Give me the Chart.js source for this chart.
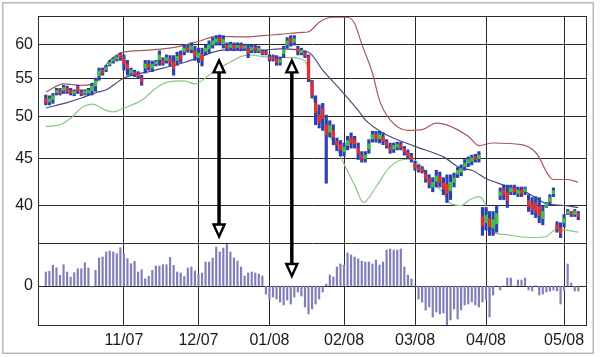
<!DOCTYPE html>
<html>
<head>
<meta charset="utf-8">
<script src="https://cdn.jsdelivr.net/npm/chart.js@4.4.1/dist/chart.umd.min.js"></script>
<style>
html,body{margin:0;padding:0;background:#ffffff;}
#wrap{width:600px;height:357px;position:relative;}
</style>
</head>
<body>
<div id="wrap"><canvas id="c" width="600" height="357"></canvas></div>
<script>
// ---- axis labels ----
const monthTickDays = [23, 44, 64, 85, 105, 125, 147];
const monthLabels = ["11/07", "12/07", "01/08", "02/08", "03/08", "04/08", "05/08"];
const priceTicks = [40, 45, 50, 55, 60];
const oscTicks = [0];
const firstDay = 1; // trading-day index of first bar

// ---- daily price bars ----
const high = [52.8,52.7,53.0,53.7,53.7,54.1,54.0,53.7,53.5,54.1,53.5,53.5,53.7,54.4,55.1,56.5,56.5,56.9,57.6,58.0,58.3,58.7,
58.4,57.6,56.5,56.2,56.0,55.5,57.6,57.6,57.5,57.6,59.0,58.0,58.4,58.3,58.3,58.8,59.0,59.85,59.85,60.2,59.7,
59.4,59.4,59.85,60.5,61.0,61.3,61.4,61.3,60.2,60.3,60.2,60.2,60.2,60.0,59.85,59.85,59.85,59.7,59.1,59.1,
58.4,58.4,58.3,58.1,59.7,61.0,61.3,61.3,59.7,59.4,59.0,58.4,54.8,52.7,51.5,51.7,50.2,49.5,49.0,47.4,47.1,
46.8,47.6,48.0,47.6,46.8,45.8,45.8,47.2,48.2,48.2,48.2,48.0,47.2,46.8,46.8,46.9,46.9,46.4,46.0,45.6,
44.7,44.3,44.1,43.7,43.2,42.9,43.7,43.5,42.9,43.2,43.2,43.4,44.0,44.3,44.9,45.2,45.4,45.5,45.8,39.8,
39.8,39.4,39.4,40.0,41.8,42.1,42.1,42.1,42.1,41.9,41.9,41.9,41.1,40.8,40.9,40.8,40.0,40.3,41.1,41.8,38.4,38.3,
39.1,39.6,39.4,39.6,39.4];
const low = [51.5,51.5,51.7,52.8,52.8,53.0,53.0,52.8,52.7,53.0,52.7,52.8,52.8,52.8,53.3,54.8,55.5,56.0,56.8,57.2,57.5,57.6,
56.2,55.5,55.5,55.3,55.1,54.1,55.8,56.2,56.0,56.8,56.9,56.9,57.2,56.8,55.5,56.9,57.3,58.4,58.8,58.7,57.6,
57.3,56.8,58.4,58.7,59.4,59.85,59.85,59.4,59.0,59.1,59.0,59.1,59.0,59.1,58.0,58.7,58.7,58.7,58.4,58.4,
57.5,57.5,56.9,56.9,58.0,59.4,59.7,59.85,58.4,58.4,58.0,54.6,52.4,49.0,48.6,48.3,42.3,47.5,46.6,45.9,45.3,
45.3,46.0,46.2,46.2,44.9,44.6,44.6,45.6,46.9,46.9,46.8,46.6,46.2,45.6,45.7,46.0,46.0,45.4,45.0,44.6,
43.7,43.5,43.4,42.4,41.8,41.4,41.9,41.9,41.1,40.3,40.6,41.9,42.9,43.1,43.7,44.1,44.3,44.6,44.6,37.1,
37.6,37.1,37.1,37.4,40.6,40.6,39.8,41.1,41.1,40.9,40.9,41.1,39.4,39.1,38.8,38.3,38.1,39.8,40.0,40.9,37.4,36.9,
37.9,39.1,38.9,38.9,38.6];
const open = [52.3,51.9,52.2,53.1,53.4,53.4,53.7,53.4,53.0,53.8,53.2,53.0,53.1,53.4,54.0,55.4,56.2,56.3,57.0,57.5,57.8,58.4,
57.9,57.1,55.8,55.9,55.7,55.1,56.5,57.1,56.5,57.1,57.7,57.6,57.6,57.8,57.4,57.6,58.4,58.9,59.5,59.2,59.0,
58.0,58.5,58.9,59.3,59.9,60.3,60.9,60.0,59.8,59.5,59.8,59.5,59.8,59.4,59.2,59.1,59.5,59.0,58.9,58.9,
58.1,58.1,57.8,57.3,58.6,59.9,60.8,60.3,59.3,58.7,58.7,58.1,54.6,51.8,50.2,51.0,49.0,48.1,48.3,47.0,46.6,
45.8,46.5,47.4,47.2,46.2,45.4,45.0,46.1,47.3,47.8,47.3,47.5,46.9,46.4,46.1,46.3,46.6,46.1,45.7,45.3,
44.4,44.0,43.9,43.3,42.8,41.9,42.5,43.0,42.3,42.2,41.5,42.4,43.3,43.5,44.1,44.5,44.7,45.2,45.0,38.9,
38.3,38.7,37.8,38.2,41.0,41.6,41.3,41.4,41.8,41.2,41.6,41.4,40.5,40.2,40.2,39.9,38.7,39.9,40.4,41.2,38.1,37.8,
38.3,39.2,39.3,39.1,39.2];
const close = [51.8,52.3,52.7,53.4,53.1,53.8,53.3,53.1,53.3,53.4,52.9,53.3,53.4,54.0,54.7,56.1,55.8,56.6,57.3,57.8,58.1,58.0,
57.1,56.4,56.2,55.6,55.4,54.6,57.1,56.6,57.0,57.4,58.4,57.2,58.0,57.3,56.4,58.2,57.8,59.4,59.1,59.7,58.3,
58.7,57.6,59.4,59.9,60.5,60.8,60.4,60.7,59.4,59.9,59.4,59.8,59.4,59.7,58.6,59.5,59.1,59.4,58.6,58.6,
57.8,57.8,57.3,57.7,59.2,60.5,60.3,60.8,58.9,59.1,58.3,55.0,52.8,50.5,49.3,49.8,47.8,48.9,47.5,46.5,46.0,
46.3,47.1,46.8,46.7,45.6,45.0,45.4,46.7,47.8,47.3,47.8,47.0,46.5,46.0,46.5,46.6,46.3,45.7,45.3,44.9,
44.0,43.7,43.6,42.8,42.3,42.4,43.1,42.4,41.7,41.2,42.4,42.9,43.7,43.9,44.5,44.9,45.1,44.9,45.4,38.0,
39.0,37.9,38.6,39.2,41.4,41.1,40.5,41.8,41.4,41.6,41.2,41.7,39.9,39.6,39.4,39.0,39.4,40.2,40.8,41.5,37.7,37.3,
38.7,39.4,39.1,39.4,38.9];

// ---- lower-panel oscillator (one value per day) ----
const oscillator = [14,14.7,20.7,18.3,10.7,21.3,14,9,13.3,17.3,17.3,23.3,18,-1,15.7,28,29,34,35,34,32.3,38.3,
32.3,27.3,22.3,24.7,14,16.3,7.3,9.7,15.7,20,20,21.3,21.3,28.7,20.7,14,13,9.5,18,19,15,
12,13,24,24,28,39,34,38,42,34,28,25,19,10,13,14,13,12,10,-8,
-13,-11,-13,-16,-19,-14,-18,-11,-6,-10,-21,-28,-23,-18,-13,-6,2,11,9,19,22,
21,33,31,29,27,25,24,24,22,26,21,24,36,37,36,36,37,19,11,7,
0,-13,-16,-24,-21,-31,-26,-28,-27,-39,-34,-23,-33,-24,-19,-18,-16,-19,-21,-16,
-13,-31,-9,0,-4,0,8,8,0,6,6,8,-4,-5,0,-9,-8,-6,-5,-4,-5,-18,
-5,22,3,-5,-5];

// ---- bands (trading-day index, price) ----
const upperIdx = [1,6,11,15,17,19,21,23,30,38,44,49,58,62,67,73,75,78,80,82,86,88,90,93,95,98,103,107,111,115,120,123,127,135,139,144,148,151];
const upperBand = [53.2,54.3,54.1,54.4,56.2,57.6,58.4,58.8,59.1,59.6,60.4,61.2,61.1,61.3,61.5,61.8,61.9,63.4,64.0,64.2,64.2,63.2,60.0,55.8,52.1,49.6,48.3,48.4,49.2,48.8,47.6,46.5,46.8,46.6,45.7,42.7,42.7,42.4];
const midIdx = [1,7,11,15,18,23,31,40,44,51,62,67,75,79,84,89,91,96,105,113,118,121,125,130,136,142,147,151];
const midBand = [51.1,51.8,52.4,53.1,53.5,55.1,56.1,57.3,58.0,59.1,59.1,59.3,58.8,56.2,53.5,50.8,49.6,48.0,46.4,45.2,43.9,43.7,42.8,42.1,41.4,40.2,40.0,39.8];
const lowerIdx = [1,5,8,11,14,18,20,23,28,32,35,40,43,48,52,58,63,70,73,75,76,78,80,82.5,85,88,90.5,92,94,98,102,104,107,110,113,115,118,120.5,123,125,127,130,134,138,142,144.5,147,151];
const lowerBand = [48.8,49.0,49.8,51.1,51.6,50.8,50.6,51.1,52.1,53.7,54.5,54.7,54.3,55.9,57.1,58.4,58.1,58.0,57.8,56.3,53.0,50.0,48.3,46.6,44.4,42.1,40.3,40.8,41.9,44.1,44.9,44.9,44.1,42.3,41.3,40.2,40.0,40.6,40.9,40.0,37.4,37.2,37.0,36.9,37.0,37.6,37.6,37.4];

// ---- annotation arrows (day index, value on an axis) ----
const arrows = [
  {day: 49.8, top: 57.6, topAxis: 'yP', bottom: 37.0, bottomAxis: 'yP'},
  {day: 70.3, top: 57.6, topAxis: 'yP', bottom: 10, bottomAxis: 'yH'}
];

// ---- build datasets ----
const days = high.map((_, k) => firstDay + k);
const rangeData = days.map((d, k) => ({x: d, y: [low[k], high[k]]}));
const bodyData = days.map((d, k) => ({x: d, y: [open[k], close[k]]}));
const bodyColors = days.map((d, k) => close[k] >= open[k] ? '#3cc43c' : '#e6302a');
const oscData = days.map((d, k) => ({x: d, y: oscillator[k]}));
const pts = (idx, vals) => idx.map((x, k) => ({x: x, y: vals[k]}));

const FONT = {family: "'Liberation Sans', Arial, Helvetica, sans-serif", size: 16};
const TXT = '#1a1a1a';
const GRID = '#2a2a2a';

const framePlugin = {
  id: 'frame',
  beforeDraw(chart) {
    const c = chart.ctx;
    c.save();
    c.fillStyle = '#ffffff';
    c.fillRect(0, 0, chart.width, chart.height);
    c.strokeStyle = '#b8b8b8';
    c.lineWidth = 1.5;
    c.strokeRect(2.75, 2.75, 590.5, 350.5);
    c.restore();
  },
  afterDatasetsDraw(chart) {
    const c = chart.ctx, a = chart.chartArea;
    c.save();
    c.strokeStyle = GRID;
    c.lineWidth = 1;
    c.strokeRect(Math.round(a.left) + 0.5, Math.round(a.top) + 0.5, Math.round(a.right - a.left) - 1, Math.round(a.bottom - a.top) - 1);
    const yb = Math.round(chart.scales.yP.bottom) + 0.5;
    c.beginPath(); c.moveTo(a.left, yb); c.lineTo(a.right, yb); c.stroke();
    // arrows
    arrows.forEach(ar => {
      const x = chart.scales.x.getPixelForValue(ar.day);
      const yt = chart.scales[ar.topAxis].getPixelForValue(ar.top);
      const yb2 = chart.scales[ar.bottomAxis].getPixelForValue(ar.bottom);
      const hl = 12, hw = 5.5;
      c.strokeStyle = '#000';
      c.lineWidth = 3.5;
      c.beginPath(); c.moveTo(x, yt + hl); c.lineTo(x, yb2 - hl); c.stroke();
      c.lineWidth = 2.4;
      c.lineJoin = 'miter';
      c.fillStyle = '#fff';
      c.beginPath(); c.moveTo(x, yt); c.lineTo(x - hw, yt + hl); c.lineTo(x + hw, yt + hl); c.closePath(); c.fill(); c.stroke();
      c.beginPath(); c.moveTo(x, yb2); c.lineTo(x - hw, yb2 - hl); c.lineTo(x + hw, yb2 - hl); c.closePath(); c.fill(); c.stroke();
    });
    c.restore();
  }
};

new Chart(document.getElementById('c').getContext('2d'), {
  type: 'bar',
  data: {
    datasets: [
      {type: 'line', data: pts(upperIdx, upperBand), borderColor: '#a65a5a', borderWidth: 1.2, pointRadius: 0, cubicInterpolationMode: 'monotone', yAxisID: 'yP', order: 6},
      {type: 'line', data: pts(midIdx, midBand), borderColor: '#4a4a7c', borderWidth: 1.2, pointRadius: 0, cubicInterpolationMode: 'monotone', yAxisID: 'yP', order: 6},
      {type: 'line', data: pts(lowerIdx, lowerBand), borderColor: '#86c886', borderWidth: 1.2, pointRadius: 0, cubicInterpolationMode: 'monotone', yAxisID: 'yP', order: 6},
      {data: rangeData, backgroundColor: '#2e3fae', barThickness: 2.5, grouped: false, yAxisID: 'yP', order: 3},
      {data: bodyData, backgroundColor: bodyColors, barThickness: 2.5, grouped: false, yAxisID: 'yP', order: 2},
      {data: oscData, backgroundColor: '#7e7eb9', barThickness: 1.5, grouped: false, yAxisID: 'yH', order: 4}
    ]
  },
  options: {
    responsive: false,
    animation: false,
    events: [],
    layout: {padding: {top: 16, right: 13, left: 0, bottom: 0}},
    plugins: {legend: {display: false}, tooltip: {enabled: false}},
    scales: {
      x: {
        type: 'linear', min: -1.2, max: 153.45, offset: false,
        grid: {offset: false, color: GRID, lineWidth: 1, drawTicks: false},
        border: {display: false},
        afterBuildTicks: s => { s.ticks = monthTickDays.map(v => ({value: v})); },
        afterFit: s => { s.height = 31; },
        ticks: {autoSkip: false, maxRotation: 0, minRotation: 0, padding: 5, font: FONT, color: TXT,
          callback: (v, i) => monthLabels[i]}
      },
      yP: {
        type: 'logarithmic', position: 'left', stack: 'v', stackWeight: 227, weight: 2,
        min: 36.4, max: 64.4,
        grid: {color: GRID, lineWidth: 1, drawTicks: false},
        border: {display: false},
        afterBuildTicks: s => { s.ticks = priceTicks.map(v => ({value: v})); },
        afterFit: s => { s.width = 38; },
        ticks: {padding: 5, font: FONT, color: TXT, callback: v => String(v)}
      },
      yH: {
        type: 'linear', position: 'left', stack: 'v', stackWeight: 83, weight: 1,
        min: -40, max: 43,
        grid: {color: GRID, lineWidth: 1, drawTicks: false},
        border: {display: false},
        afterBuildTicks: s => { s.ticks = oscTicks.map(v => ({value: v})); },
        afterFit: s => { s.width = 38; },
        ticks: {padding: 5, font: FONT, color: TXT, callback: v => String(v)}
      }
    }
  },
  plugins: [framePlugin]
});
</script>
</body>
</html>
